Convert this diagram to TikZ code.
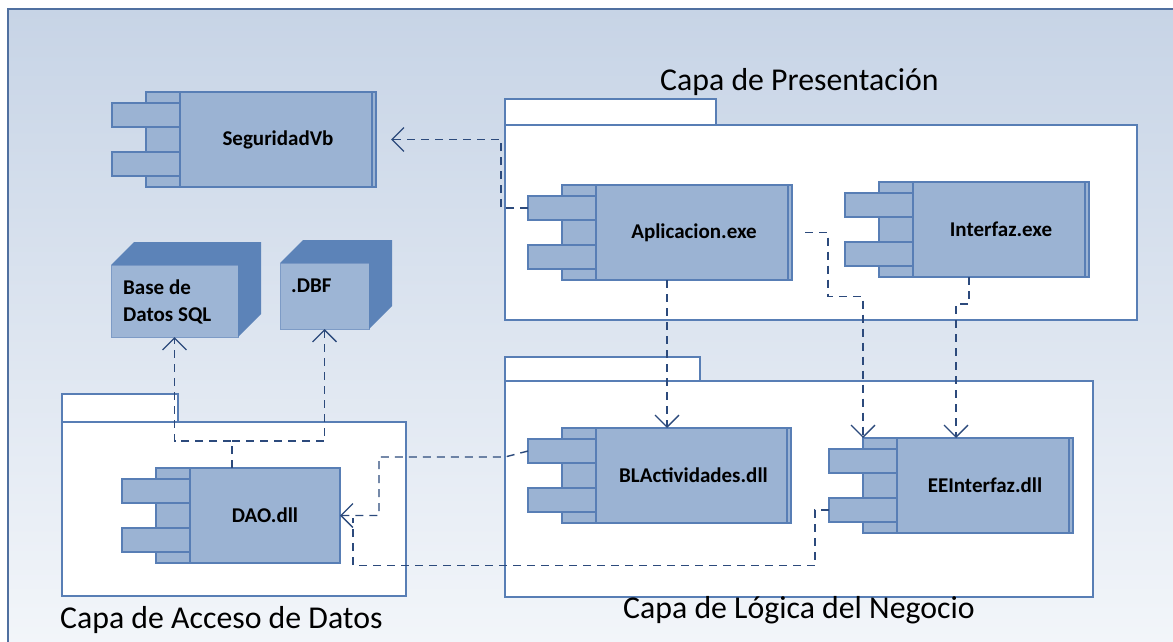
\documentclass[tikz,border=0pt]{standalone}
\usepackage{fontspec}
\setmainfont{Carlito}
\usetikzlibrary{arrows.meta}
\definecolor{bord}{RGB}{88,126,181}
\definecolor{cfill}{RGB}{155,179,211}
\definecolor{depc}{RGB}{44,74,124}
\definecolor{bgtop}{RGB}{199,212,230}
\definecolor{bgbot}{RGB}{243,246,250}
\definecolor{frame}{RGB}{80,112,160}
\definecolor{cubeside}{RGB}{92,131,184}
\definecolor{cubefront}{RGB}{157,181,213}
\definecolor{cubeedge}{RGB}{125,155,198}
\tikzset{
  compmain/.style={draw=bord, fill=cfill, line width=2pt, inner sep=0pt, outer sep=0pt,
    font=\fontsize{21}{25}\selectfont\bfseries},
  compaux/.style={draw=bord, fill=cfill, line width=2pt, inner sep=0pt, outer sep=0pt},
  pkg/.style={draw=bord, fill=white, line width=2.2pt, inner sep=0pt, outer sep=0pt},
  dep/.style={draw=depc, line width=1.4pt, dash pattern=on 8pt off 6pt,
    -{Straight Barb[length=12pt,width=24pt,line width=1.3pt]}},
  depline/.style={draw=depc, line width=1.4pt, dash pattern=on 8pt off 6pt},
  layerlbl/.style={font=\fontsize{31.8}{37}\selectfont, inner sep=0pt, text=black},
  cubefr/.style={draw=cubeedge, fill=cubefront, line width=1pt, inner sep=0pt, outer sep=0pt},
  cubetxt/.style={font=\fontsize{21}{27}\selectfont\bfseries, inner sep=0pt, align=left}
}
\newcommand\compo[6]{%
  \node[compmain, minimum width=#4pt, minimum height=#5pt] (#1) at (#2,#3) {#6};
  \node[compaux, anchor=north east, minimum width=34pt, minimum height=#5pt] (#1-b) at (#1.north west) {};
  \node[compaux, anchor=north east, minimum width=68pt, minimum height=24pt] (#1-p1) at ([yshift=-11pt]#1.north west) {};
  \node[compaux, anchor=north east, minimum width=68pt, minimum height=24pt] (#1-p2) at ([yshift=-60pt]#1.north west) {};
}
\newcommand\dblline[1]{%
  \draw[bord, line width=1.5pt] ([xshift=-4pt]#1.north east) -- ([xshift=-4pt]#1.south east);
}
\newcommand\cubeshade[1]{%
  \fill[cubeside] (#1.north west) -- ++(23,-23) -- ([shift={(23,-23)}]#1.north east)
    -- ([shift={(23,-23)}]#1.south east) -- (#1.south east) -- (#1.north east) -- cycle;
}
\begin{document}
\begin{tikzpicture}[x=1pt,y=-1pt]
\useasboundingbox (0,0) rectangle (1173,642);
\clip (0,0) rectangle (1173,642);
\fill[white] (0,0) rectangle (1173,642);
\shade[top color=bgtop, bottom color=bgbot] (8,9) rectangle (1185,655);
\draw[frame, line width=1.5pt] (8,655) -- (8,9) -- (1185,9);

% packages
\node[pkg, anchor=north west, minimum width=632pt, minimum height=195pt] (pres) at (505,125) {};
\node[pkg, anchor=south west, minimum width=211pt, minimum height=26pt] (pres-tab) at (pres.north west) {};
\node[pkg, anchor=north west, minimum width=588pt, minimum height=216pt] (logi) at (505,381) {};
\node[pkg, anchor=south west, minimum width=195pt, minimum height=24pt] (logi-tab) at (logi.north west) {};
\node[pkg, anchor=north west, minimum width=344pt, minimum height=174pt] (acc) at (62,422) {};
\node[pkg, anchor=south west, minimum width=116pt, minimum height=28pt] (acc-tab) at (acc.north west) {};

\node[layerlbl, anchor=base west] (lpres) at (660,91) {Capa de Presentación};
\node[layerlbl, anchor=base west] (llogi) at (623,618) {Capa de Lógica del Negocio};
\node[layerlbl, anchor=base west] (lacc) at (60,628) {Capa de Acceso de Datos};

% components
\compo{seg}{278}{139.5}{196}{95}{SeguridadVb}
\dblline{seg}
\compo{apl}{694}{232.5}{196}{95}{Aplicacion.exe}
\dblline{apl}
\compo{int}{1001}{229.5}{176}{95}{Interfaz.exe}
\dblline{int}
\compo{bl}{693.5}{475.5}{195}{95}{BLActividades.dll}
\dblline{bl}
\compo{ee}{985}{485.5}{176}{95}{EEInterfaz.dll}
\dblline{ee}
\compo{dao}{265}{515.5}{150}{95}{DAO.dll}

% data stores
\node[cubefr, minimum width=127pt, minimum height=72pt] (sql) at (174.5,301) {};
\cubeshade{sql}
\node[cubetxt, anchor=west] (sqltxt) at (123,302) {Base de\\Datos SQL};
\node[cubefr, minimum width=89pt, minimum height=66pt] (dbf) at (324.5,296) {};
\cubeshade{dbf}
\node[cubetxt, anchor=base west] (dbftxt) at (291,292) {.DBF};

% connectors
\coordinate (segin) at ([xshift=15pt]seg.east);
\draw[dep] (apl-p1.west) -- ++(-27,0) |- (segin);
\draw[dep] ([xshift=-27pt]apl.south) -- ([xshift=-27pt]apl.south |- bl.north);
\draw[dep] ([xshift=13pt]apl.east) -- ++(23,0) -- ++(0,64) -| (ee-b.north west);
\draw[dep] ([xshift=-32pt]int.south) -- ++(0,27) -| ([xshift=-29pt]ee.north);
\draw[dep] (bl-p1.west) -- ++(-23,6) -- ++(-126,0) |- (dao.east);
\draw[depline] (ee-p2.west) -- ++(-14,0) |- ([xshift=13pt,yshift=-50pt]dao.east) -- ([xshift=13pt,yshift=-2pt]dao.east);
\draw[dep] ([xshift=-33pt]dao.north) -- ++(0,-27) -| (sql.south);
\draw[dep] ([xshift=-33pt,yshift=27pt]dao.north) -| (dbf.south);
\end{tikzpicture}
\end{document}
